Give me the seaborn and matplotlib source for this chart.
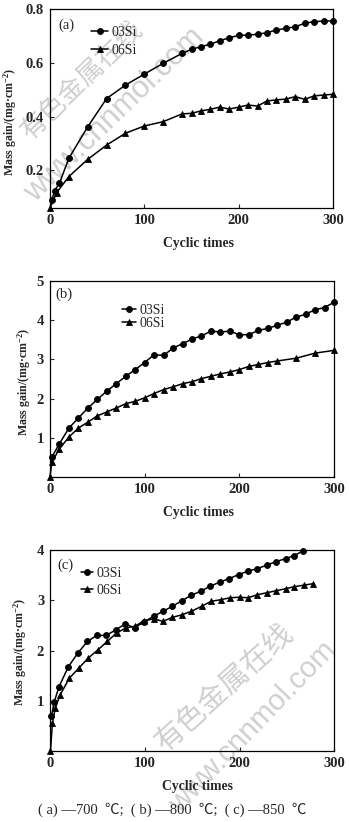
import numpy as np
import pandas as pd
import matplotlib
matplotlib.use("Agg")
import matplotlib.pyplot as plt
import seaborn as sns
from matplotlib.lines import Line2D
from matplotlib.legend_handler import HandlerLine2D

# ---------------- data ----------------
series_names = ["03Si", "06Si"]
panel_tags = ["(a)", "(b)", "(c)"]
x_label = "Cyclic times"
y_label = "Mass gain/(mg\u00b7cm$^{-2}$)"
caption = "( a) \u2014700  \u2103;  ( b) \u2014800  \u2103;  ( c) \u2014850  \u2103"

a_x_03 = [2, 5, 10, 20, 40, 60, 80, 100, 120, 140, 150, 160, 170, 180, 190, 200,
          210, 220, 230, 240, 250, 260, 270, 280, 290, 300]
a_y_03 = [0.09, 0.125, 0.152, 0.245, 0.362, 0.467, 0.517, 0.558, 0.598, 0.635,
          0.650, 0.660, 0.669, 0.682, 0.693, 0.702, 0.703, 0.706, 0.712, 0.722,
          0.728, 0.734, 0.747, 0.753, 0.755, 0.756]
a_x_06 = [0, 7, 20, 40, 60, 80, 100, 120, 140, 150, 160, 170, 180, 190, 200, 210,
          220, 230, 240, 250, 260, 270, 280, 290, 300]
a_y_06 = [0.06, 0.117, 0.177, 0.241, 0.294, 0.338, 0.365, 0.381, 0.41, 0.412,
          0.421, 0.427, 0.435, 0.428, 0.435, 0.443, 0.439, 0.458, 0.462, 0.465,
          0.474, 0.464, 0.477, 0.48, 0.483]

b_x_03 = [2, 10, 20, 30, 40, 50, 60, 70, 80, 90, 100, 110, 120, 130, 140, 150,
          160, 170, 180, 190, 200, 210, 220, 230, 240, 250, 260, 270, 280, 290, 300]
b_y_03 = [0.51, 0.85, 1.25, 1.505, 1.76, 1.98, 2.19, 2.38, 2.57, 2.74, 2.92, 3.12,
          3.10, 3.29, 3.40, 3.52, 3.60, 3.72, 3.70, 3.72, 3.63, 3.63, 3.74, 3.79,
          3.87, 3.95, 4.08, 4.15, 4.27, 4.32, 4.46]
b_x_06 = [0, 2, 10, 20, 30, 40, 50, 60, 70, 80, 90, 100, 110, 120, 130, 140, 150,
          160, 170, 180, 190, 200, 210, 220, 230, 240, 260, 280, 300]
b_y_06 = [0.0, 0.38, 0.72, 1.02, 1.25, 1.40, 1.56, 1.66, 1.76, 1.87, 1.93, 2.02,
          2.13, 2.23, 2.30, 2.38, 2.43, 2.51, 2.57, 2.63, 2.68, 2.74, 2.82, 2.87,
          2.92, 2.96, 3.03, 3.16, 3.23]

c_x_03 = [1, 4, 9, 19, 29, 39, 49, 59, 69, 79, 89, 99, 109, 119, 129, 139, 149,
          159, 169, 179, 189, 199, 209, 219, 229, 239, 249, 258, 267]
c_y_03 = [0.70, 0.98, 1.28, 1.68, 1.95, 2.18, 2.30, 2.30, 2.41, 2.53, 2.45, 2.57,
          2.68, 2.78, 2.88, 2.99, 3.10, 3.18, 3.28, 3.36, 3.43, 3.51, 3.58, 3.63,
          3.70, 3.77, 3.83, 3.89, 3.98]
c_x_06 = [0, 2, 5, 10, 20, 30, 40, 50, 60, 70, 80, 89, 99, 109, 119, 129, 139,
          149, 160, 170, 180, 190, 200, 209, 219, 229, 239, 249, 258, 268, 278]
c_y_06 = [0.0, 0.55, 0.85, 1.11, 1.45, 1.65, 1.85, 2.01, 2.18, 2.35, 2.45, 2.48,
          2.59, 2.63, 2.58, 2.66, 2.71, 2.78, 2.88, 2.98, 3.01, 3.05, 3.06, 3.05,
          3.11, 3.15, 3.19, 3.23, 3.27, 3.30, 3.33]

x_ticks = [0, 100, 200, 300]
a_y_ticks = [0.2, 0.4, 0.6, 0.8]
b_y_ticks = [1, 2, 3, 4, 5]
c_y_ticks = [1, 2, 3, 4]

wm_cn = "有色金属在线"
wm_en = "www.cnnmol.com"

# ---------------- style ----------------
sns.set_theme(style="white")
plt.rcParams.update({
    "font.family": ["Liberation Serif", "Noto Sans CJK SC", "DejaVu Sans"],
    "mathtext.fontset": "custom",
    "mathtext.rm": "Liberation Serif",
    "mathtext.bf": "Liberation Serif:bold",
    "mathtext.default": "regular",
    "axes.edgecolor": "black",
    "axes.linewidth": 0.9,
    "xtick.direction": "in",
    "ytick.direction": "in",
    "xtick.major.size": 3,
    "ytick.major.size": 3,
    "xtick.major.width": 0.8,
    "ytick.major.width": 0.8,
    "xtick.major.pad": 4.5,
    "ytick.major.pad": 4.5,
    "xtick.bottom": True,
    "ytick.left": True,
})

W, H = 349, 822
fig = plt.figure(figsize=(W / 100, H / 100), dpi=100)
fig.patch.set_facecolor("white")


def frac(l, r, t, b):
    return [l / W, 1 - b / H, (r - l) / W, (b - t) / H]


class LeftMarkerHandler(HandlerLine2D):
    def get_xdata(self, legend, xdescent, ydescent, width, height, fontsize):
        xdata = np.array([-xdescent, -xdescent + width])
        xdata_marker = np.array([-xdescent + 1.0])
        return xdata, xdata_marker


panels = [
    dict(rect=frac(50, 333, 9, 208), x03=a_x_03, y03=a_y_03, x06=a_x_06, y06=a_y_06,
         ylim=(0.06, 0.8), yticks=a_y_ticks, fmt="{:.1f}", tag=panel_tags[0],
         tagpos=(0.03, 0.92), leg=(0.145, 0.915), hl=1.25, lsp=0.35,
         ylab=(-0.108, 0.43), xlab=(0.523, -0.146)),
    dict(rect=frac(50, 334, 281, 477), x03=b_x_03, y03=b_y_03, x06=b_x_06, y06=b_y_06,
         ylim=(0, 5), yticks=b_y_ticks, fmt="{:d}", tag=panel_tags[1],
         tagpos=(0.02, 0.93), leg=(0.255, 0.885), hl=0.95, lsp=0.05,
         ylab=(-0.06, 0.486), xlab=(0.523, -0.149)),
    dict(rect=frac(50.5, 334, 550, 751), x03=c_x_03, y03=c_y_03, x06=c_x_06, y06=c_y_06,
         ylim=(0, 4), yticks=c_y_ticks, fmt="{:d}", tag=panel_tags[2],
         tagpos=(0.025, 0.925), leg=(0.106, 0.915), hl=0.88, lsp=0.25,
         ylab=(-0.076, 0.494), xlab=(0.518, -0.146)),
]

for p in panels:
    ax = fig.add_axes(p["rect"])
    ax.set_facecolor("none")
    df = pd.concat([
        pd.DataFrame({"cycles": p["x03"], "gain": p["y03"], "alloy": series_names[0]}),
        pd.DataFrame({"cycles": p["x06"], "gain": p["y06"], "alloy": series_names[1]}),
    ], ignore_index=True)
    sns.lineplot(data=df, x="cycles", y="gain", hue="alloy", style="alloy",
                 markers={series_names[0]: "o", series_names[1]: "^"},
                 dashes=False, palette={series_names[0]: "black", series_names[1]: "black"},
                 estimator=None, sort=False, legend=False, ax=ax,
                 linewidth=1.1, markersize=4.3, markeredgecolor="black",
                 markeredgewidth=0.6, clip_on=False)
    ax.set_xlim(0, 300)
    ax.set_ylim(*p["ylim"])
    ax.set_xticks(x_ticks)
    ax.set_xticklabels([str(t) for t in x_ticks], fontsize=10.5, fontweight="bold")
    ax.set_yticks(p["yticks"])
    ax.set_yticklabels([p["fmt"].format(t) for t in p["yticks"]], fontsize=10.5,
                       fontweight="bold")
    for s in ax.spines.values():
        s.set_visible(True)
        s.set_color("black")
        s.set_linewidth(0.9)
    ax.set_xlabel(x_label, fontsize=9.8, fontweight="bold")
    ax.set_ylabel(y_label, fontsize=8.6, fontweight="bold")
    ax.xaxis.set_label_coords(*p["xlab"])
    ax.yaxis.set_label_coords(*p["ylab"])
    ax.text(p["tagpos"][0], p["tagpos"][1], p["tag"], transform=ax.transAxes,
            fontsize=10.5, ha="left", va="center")
    handles = ax.lines[:2]
    ax.legend(handles=handles, labels=series_names, loc="upper left",
              bbox_to_anchor=p["leg"], frameon=False, fontsize=10,
              handlelength=p["hl"], handletextpad=0.25, borderpad=0,
              borderaxespad=0, labelspacing=p["lsp"],
              handler_map={Line2D: LeftMarkerHandler()})

# caption
fig.text(0.494, 1 - 810 / H, caption, ha="center", va="center", fontsize=10.5)

# watermarks
wm_col = "#cfcfcf"
fig.text(82 / W, 1 - 80 / H, wm_cn, rotation=44, ha="center", va="center",
         rotation_mode="anchor", fontsize=19, color=wm_col, zorder=-1,
         family=["Noto Sans CJK SC"])
fig.text(115 / W, 1 - 115 / H, wm_en, rotation=44, ha="center", va="center",
         rotation_mode="anchor", fontsize=22, color=wm_col, zorder=-1,
         family=["Liberation Sans"])
fig.text(225 / W, 1 - 688 / H, wm_cn, rotation=42, ha="center", va="center",
         rotation_mode="anchor", fontsize=21, color=wm_col, zorder=-1,
         family=["Noto Sans CJK SC"])
fig.text(253 / W, 1 - 727 / H, wm_en, rotation=46, ha="center", va="center",
         rotation_mode="anchor", fontsize=21, color=wm_col, zorder=-1,
         family=["Liberation Sans"])

fig.savefig("out.png", dpi=100, facecolor="white")
